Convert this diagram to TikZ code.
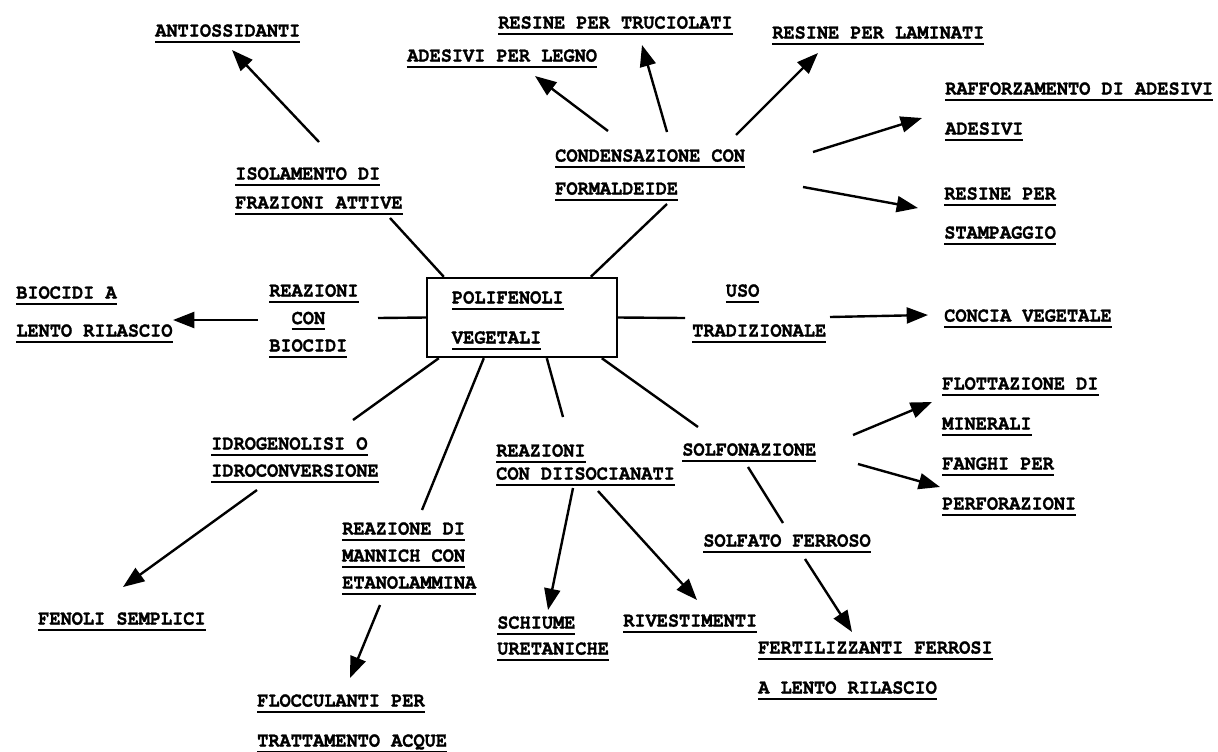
\documentclass[tikz,border=0pt]{standalone}
\usepackage{fontspec}
\setmonofont{texgyrecursor}[Extension=.otf, UprightFont=*-regular, BoldFont=*-bold,
  FakeStretch=0.9, BoldFeatures={FakeBold=1.2}]
\usetikzlibrary{arrows.meta}
\newsavebox\ulboxa
\newcommand\ulbl[1]{\sbox\ulboxa{#1}\smash{\rlap{\vrule width\wd\ulboxa height-3pt depth4.5pt}}\usebox\ulboxa}
\newcommand\lblfont[1]{\fontsize{15.5pt}{#1}\selectfont\ttfamily\bfseries}
\begin{document}
\begin{tikzpicture}[x=0.75pt, y=-0.75pt,
  lbl/.style={inner sep=0pt, anchor=north west, align=left, font=\lblfont{#1}},
  lbl/.default=20pt,
  link/.style={line width=1.8pt},
  arr/.style={link, -{Triangle[length=16pt, width=12pt]}}]
  \useasboundingbox (0,0) rectangle (1218,751);
  \node[lbl] (anti) at (155,24) {\ulbl{ANTIOSSIDANTI}};
  \node[lbl] (trucio) at (498,16) {\ulbl{RESINE PER TRUCIOLATI}};
  \node[lbl] (legno) at (407,49) {\ulbl{ADESIVI PER LEGNO}};
  \node[lbl] (lamin) at (772,26) {\ulbl{RESINE PER LAMINATI}};
  \node[lbl=30pt] (raff) at (945,82) {\ulbl{RAFFORZAMENTO DI ADESIVI}\\\ulbl{ADESIVI}};
  \node[lbl=24.75pt] (cond) at (555,149) {\ulbl{CONDENSAZIONE CON}\\\ulbl{FORMALDEIDE}};
  \node[lbl=21.75pt] (isol) at (235,167) {\ulbl{ISOLAMENTO DI}\\\ulbl{FRAZIONI ATTIVE}};
  \node[lbl=29.25pt] (stamp) at (944,187) {\ulbl{RESINE PER}\\\ulbl{STAMPAGGIO}};
  \node[lbl=28.5pt] (biorel) at (16,286) {\ulbl{BIOCIDI A}\\\ulbl{LENTO RILASCIO}};
  \node[lbl=20.6pt] (reazbio) at (269,284) {\ulbl{REAZIONI}\\\hspace*{16.8pt}\ulbl{CON}\\\ulbl{BIOCIDI}};
  \node[draw, line width=1.8pt, inner xsep=18.75pt, inner ysep=0pt, minimum width=142.5pt,
    minimum height=59.25pt, text width=105pt, align=left, font=\lblfont{30pt}]
    (poli) at (522,317.5) {\ulbl{POLIFENOLI}\\\ulbl{VEGETALI}};
  \node[lbl=30pt] (uso) at (692,284) {\hspace*{25.2pt}\ulbl{USO}\\\ulbl{TRADIZIONALE}};
  \node[lbl] (concia) at (944,309) {\ulbl{CONCIA VEGETALE}};
  \node[lbl=30pt] (flott) at (942,377) {\ulbl{FLOTTAZIONE DI}\\\ulbl{MINERALI}};
  \node[lbl=30pt] (fanghi) at (942,457) {\ulbl{FANGHI PER}\\\ulbl{PERFORAZIONI}};
  \node[lbl] (solfon) at (682,443) {\ulbl{SOLFONAZIONE}};
  \node[lbl=17.25pt] (diiso) at (496,444) {\ulbl{REAZIONI}\\\ulbl{CON DIISOCIANATI}};
  \node[lbl=20.25pt] (idro) at (211,437) {\ulbl{IDROGENOLISI O}\\\ulbl{IDROCONVERSIONE}};
  \node[lbl=20.25pt] (mannich) at (342,522) {\ulbl{REAZIONE DI}\\\ulbl{MANNICH CON}\\\ulbl{ETANOLAMMINA}};
  \node[lbl] (solfato) at (703,534) {\ulbl{SOLFATO FERROSO}};
  \node[lbl=19.5pt] (schiume) at (497,616) {\ulbl{SCHIUME}\\\ulbl{URETANICHE}};
  \node[lbl] (rivest) at (623,614) {\ulbl{RIVESTIMENTI}};
  \node[lbl=30pt] (fert) at (758,641) {\ulbl{FERTILIZZANTI FERROSI}\\\ulbl{A LENTO RILASCIO}};
  \node[lbl] (fenoli) at (38,612) {\ulbl{FENOLI SEMPLICI}};
  \node[lbl=30pt] (floc) at (257,694) {\ulbl{FLOCCULANTI PER}\\\ulbl{TRATTAMENTO ACQUE}};
  \draw[link] ([shift={(18,0)}]poli.north west) -- ([shift={(155,51)}]isol.north west);
  \draw[link] ([shift={(165,0)}]poli.north west) -- ([shift={(112,55)}]cond.north west);
  \draw[link] (poli.west) -- ([shift={(109,34)}]reazbio.north west);
  \draw[link] (poli.east) -- ([shift={(-7,34)}]uso.north west);
  \draw[link] ([shift={(13,0)}]poli.south west) -- ([shift={(142,-17)}]idro.north west);
  \draw[link] ([shift={(58,0)}]poli.south west) -- ([shift={(80,-12)}]mannich.north west);
  \draw[link] ([shift={(121,0)}]poli.south west) -- ([shift={(67,-27)}]diiso.north west);
  \draw[link] ([shift={(176,0)}]poli.south west) -- ([shift={(16,-16)}]solfon.north west);
  \draw[link] ([shift={(66,24)}]solfon.north west) -- ([shift={(80,-11)}]solfato.north west);
  \draw[arr] ([shift={(84,-25)}]isol.north west) -- ([shift={(77,26)}]anti.north west);
  \draw[arr] ([shift={(53,-18)}]cond.north west) -- ([shift={(128,27)}]legno.north west);
  \draw[arr] ([shift={(112,-17)}]cond.north west) -- ([shift={(144,29)}]trucio.north west);
  \draw[arr] ([shift={(181,-14)}]cond.north west) -- ([shift={(46,27)}]lamin.north west);
  \draw[arr] ([shift={(258,3)}]cond.north west) -- ([shift={(-23,36)}]raff.north west);
  \draw[arr] ([shift={(248,38)}]cond.north west) -- ([shift={(-26,21)}]stamp.north west);
  \draw[arr] ([shift={(-11,36)}]reazbio.north west) -- ([shift={(157,34)}]biorel.north west);
  \draw[arr] ([shift={(138,33)}]uso.north west) -- ([shift={(-16,6)}]concia.north west);
  \draw[arr] ([shift={(171,-8)}]solfon.north west) -- ([shift={(-10,25)}]flott.north west);
  \draw[arr] ([shift={(176,21)}]solfon.north west) -- ([shift={(-2,30)}]fanghi.north west);
  \draw[arr] ([shift={(102,25)}]solfato.north west) -- ([shift={(94,-9)}]fert.north west);
  \draw[arr] ([shift={(77,44)}]diiso.north west) -- ([shift={(51,-6)}]schiume.north west);
  \draw[arr] ([shift={(102,47)}]diiso.north west) -- ([shift={(74,-14)}]rivest.north west);
  \draw[arr] ([shift={(46,53)}]idro.north west) -- ([shift={(85,-25)}]fenoli.north west);
  \draw[arr] ([shift={(38,83)}]mannich.north west) -- ([shift={(93,-16)}]floc.north west);
\end{tikzpicture}
\end{document}
